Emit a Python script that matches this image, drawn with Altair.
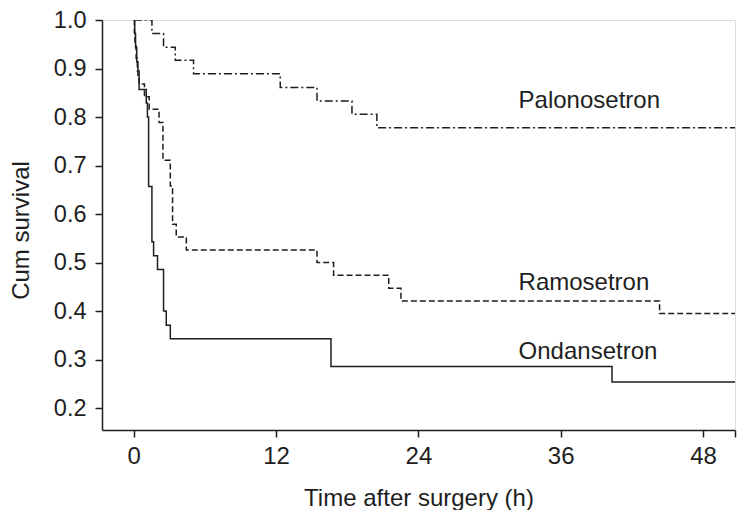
import altair as alt
import pandas as pd

# Kaplan-Meier step data (time in hours, cumulative survival)
palo_t = [0, 1.53, 2.51, 3.5, 5.04, 12.35, 15.45, 18.4, 20.5, 50.7]
palo_v = [1.0, 0.972, 0.944, 0.917, 0.889, 0.861, 0.833, 0.806, 0.778, 0.778]

ramo_t = [0, 0.05, 0.1, 0.2, 0.3, 0.45, 0.9, 1.3, 2.13, 2.46, 3.08, 3.27, 3.58, 4.43,
          15.45, 16.85, 21.5, 22.53, 44.34, 50.7]
ramo_v = [1.0, 0.974, 0.947, 0.921, 0.895, 0.868, 0.842, 0.816, 0.789, 0.711, 0.658,
          0.579, 0.553, 0.526, 0.5, 0.474, 0.447, 0.421, 0.395, 0.395]

onda_t = [0, 0.08, 0.15, 0.25, 0.35, 0.45, 1.05, 1.15, 1.25, 1.53, 1.67, 2.0, 2.51,
          2.74, 3.08, 16.63, 40.33, 50.7]
onda_v = [1.0, 0.971, 0.943, 0.914, 0.886, 0.857, 0.829, 0.8, 0.657, 0.543, 0.514,
          0.486, 0.4, 0.371, 0.343, 0.286, 0.254, 0.254]

series_names = ["Palonosetron", "Ramosetron", "Ondansetron"]
label_t = [32.45, 32.45, 32.45]
label_v = [0.8177, 0.4437, 0.3013]

x_ticks = [0, 12, 24, 36, 48, 50.7]
y_ticks = [0.2, 0.3, 0.4, 0.5, 0.6, 0.7, 0.8, 0.9, 1.0]

FONT = "Liberation Sans"
INK = "#1e1e1e"

df = pd.concat([
    pd.DataFrame({"t": palo_t, "v": palo_v, "s": "Palonosetron"}),
    pd.DataFrame({"t": ramo_t, "v": ramo_v, "s": "Ramosetron"}),
    pd.DataFrame({"t": onda_t, "v": onda_v, "s": "Ondansetron"}),
])
labels = pd.DataFrame({"t": label_t, "v": label_v, "s": series_names})

xscale = alt.Scale(domain=[-2.68, 50.7], nice=False, zero=False)
yscale = alt.Scale(domain=[0.155, 1.0], nice=False, zero=False)

xaxis = alt.Axis(values=x_ticks, labelExpr="datum.value > 49 ? '' : datum.label",
                 tickSize=7, tickWidth=1.5, labelPadding=7, labelFontSize=24,
                 labelFont=FONT, labelColor=INK, domainColor=INK, domainWidth=1.5,
                 tickColor=INK, grid=False, title="Time after surgery (h)",
                 titleFont=FONT, titleFontSize=24, titleFontWeight="normal",
                 titleColor=INK, titleX=316.5, titleY=75, titleBaseline="alphabetic")
yaxis = alt.Axis(values=y_ticks, format=".1f", tickSize=7, tickWidth=1.5,
                 labelPadding=9, labelFontSize=23.5, labelFont=FONT, labelColor=INK,
                 domainColor=INK, domainWidth=1.5, tickColor=INK, grid=False,
                 title="Cum survival", titleFont=FONT, titleFontSize=24,
                 titleFontWeight="normal", titleColor=INK, titleX=-74, titleY=210,
                 titleBaseline="alphabetic", titleAngle=270)

def curve(name, dash):
    return alt.Chart(df).transform_filter(alt.datum.s == name).mark_line(
        interpolate="step-after", strokeDash=dash, strokeWidth=1.5, color=INK, clip=True
    ).encode(
        x=alt.X("t:Q", scale=xscale, axis=xaxis),
        y=alt.Y("v:Q", scale=yscale, axis=yaxis),
    )

palo = curve("Palonosetron", [8, 3, 2, 3])
ramo = curve("Ramosetron", [6, 3])
onda = curve("Ondansetron", [1, 0])

text = alt.Chart(labels).mark_text(
    align="left", baseline="alphabetic", font=FONT, fontSize=24, color=INK
).encode(
    x=alt.X("t:Q", scale=xscale),
    y=alt.Y("v:Q", scale=yscale),
    text="s:N",
)

chart = alt.layer(palo, ramo, onda, text).properties(
    width=633, height=410,
    autosize=alt.AutoSizeParams(type="none"),
    padding={"left": 94, "top": 12, "right": 2, "bottom": 80},
).configure_view(stroke=None).configure(background="white")

chart.save("out.html", embed_options={"renderer": "svg", "actions": False})
